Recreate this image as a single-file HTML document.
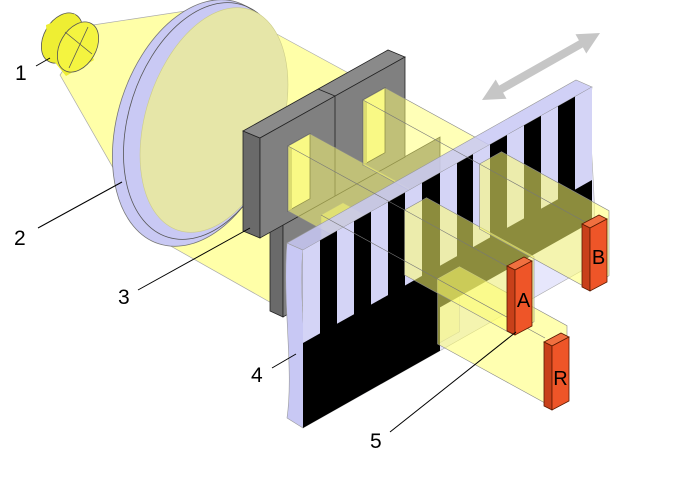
<!DOCTYPE html>
<html><head><meta charset="utf-8"><style>
html,body{margin:0;padding:0;background:#fff;}
svg{display:block;}
text{font-family:"Liberation Sans",sans-serif;fill:#000;}
</style></head><body>
<svg width="690" height="481" viewBox="0 0 690 481" xmlns="http://www.w3.org/2000/svg">
<!-- cone -->
<polygon points="93,25 205,8 140,215 60,75" fill="#ffffa8" stroke="#aaa" stroke-width="0.7"/>
<!-- collimated beam -->
<polygon points="262,26 365,82 275,305 160,240" fill="#ffffa8" stroke="#aaa" stroke-width="0.7"/>
<!-- lens -->
<ellipse cx="198" cy="123" rx="80" ry="127" transform="rotate(18 198 123)" fill="#c9c9f4" stroke="#777" stroke-width="0.8"/>
<ellipse cx="205" cy="121" rx="76" ry="122" transform="rotate(18 205 121)" fill="none" stroke="#555" stroke-width="0.8"/>
<ellipse cx="214" cy="120" rx="68" ry="116" transform="rotate(18 214 120)" fill="#e6e6a8" stroke="#cccc88" stroke-width="0.6"/>
<!-- source -->
<g stroke="#555" stroke-width="0.8">
<ellipse cx="62" cy="38" rx="18" ry="27" transform="rotate(30 62 38)" fill="#eeee33"/>
<polygon points="46,25 75,14 94,60 66,76 48,54" fill="#eeee33" stroke="none"/>
<ellipse cx="78" cy="47" rx="18" ry="27" transform="rotate(30 78 47)" fill="#f4f440"/>
<line x1="65" y1="32" x2="92" y2="54" />
<line x1="88" y1="27" x2="69" y2="68" />
</g>
<!-- lower frame block -->
<g stroke="#222" stroke-width="0.8">
<polygon points="270,219 283,225 283,317 270,311" fill="#6a6a6a"/>
<polygon points="283,225 440,137 440,229 283,317" fill="#808080"/>
<!-- upper frame -->
<polygon points="243,131 260,138 260,238 243,231" fill="#6a6a6a"/>
<polygon points="243,131 388,50 405,57 260,138" fill="#8a8a8a"/>
<polygon points="260,138 405,57 405,157 260,238" fill="#808080"/>
<line x1="335" y1="96" x2="335" y2="196"/>
<line x1="318" y1="89" x2="335" y2="96"/>
<!-- windows -->
<polygon points="288,146 310,133.7 310,198.7 288,211" fill="#f2f29a"/>
<polygon points="363,100 385,87.7 385,152.7 363,165" fill="#f2f29a"/>
</g>
<polygon points="288,146 292,148 292,209 288,211" fill="#b8b870"/>
<polygon points="363,100 367,102 367,163 363,165" fill="#b8b870"/>
<!-- beams behind plate -->
<g fill="#ffff70" fill-opacity="0.5" stroke="#888" stroke-width="0.6">
<polygon points="321,215 343,202.7 459.5,266.7 459.5,331.7 437.5,344 321,280"/>
<polygon points="288,146 310,133.7 426.5,197.7 426.5,262.7 404.5,275 288,211"/>
<polygon points="363,100 385,87.7 501.5,151.7 501.5,216.7 479.5,229 363,165"/>
</g>
<!-- plate -->
<path d="M287,243 L303,250 C298,300 310,360 303,428 L287,418 C294,370 282,300 287,243 Z" fill="#c8c8f4" stroke="#999" stroke-width="0.6"/>
<polygon points="287,243 576,80 592,87 303,250" fill="#c8c8f4" fill-opacity="0.85" stroke="#999" stroke-width="0.6"/>
<path d="M303,250 L592,87 C586,140 600,200 592,265 L303,428 C310,360 298,300 303,250 Z" fill="#d4d4fa" fill-opacity="0.55" stroke="#aaa" stroke-width="0.6"/>
<polygon points="303,250 592,87 592,221.7 440,307.4 440,350.7 303,428" fill="#000"/>
<g fill="#d4d4f6">
<polygon points="337,230.8 354,221.2 354,314.2 337,323.8"/>
<polygon points="371,211.6 388,202.1 388,295.1 371,304.6"/>
<polygon points="405,192.5 422,182.9 422,275.9 405,285.5"/>
<polygon points="440,172.7 457,163.1 457,256.1 440,265.7"/>
<polygon points="473,154.1 490,144.5 490,237.5 473,247.1"/>
<polygon points="507,134.9 524,125.4 524,218.4 507,227.9"/>
<polygon points="541,115.8 558,106.2 558,199.2 541,208.8"/>
<polygon points="575,96.6 592,87 592,180 575,189.6"/>
</g>
<polygon points="303,250 320,240.4 320,333.4 303,343" fill="#d4d4f6"/>
<!-- beams in front of plate -->
<g fill="#ffff70" fill-opacity="0.55" stroke="#888" stroke-width="0.6">
<polygon points="437.5,279 459.5,266.7 567,325.7 567,390.7 545,403 437.5,344"/>
<polygon points="404.5,210 426.5,197.7 534,256.7 534,321.7 512,334 404.5,275"/>
<polygon points="479.5,164 501.5,151.7 609,210.7 609,275.7 587,288 479.5,229"/>
</g>
<g stroke="#777" stroke-width="0.6">
<line x1="288" y1="146" x2="512" y2="269"/>
<line x1="363" y1="100" x2="587" y2="223"/>
<line x1="321" y1="215" x2="545" y2="338"/>
</g>
<!-- detectors -->
<g stroke="#5a1a00" stroke-width="0.8">
<polygon points="507,266 524,257 532,261 515,270" fill="#f07040"/>
<polygon points="507,266 515,270 515,335 507,331" fill="#c8401a"/>
<polygon points="515,270 532,261 532,326 515,335" fill="#ee5528"/>
<polygon points="582,224 599,215 607,219 590,228" fill="#f07040"/>
<polygon points="582,224 590,228 590,291 582,287" fill="#c8401a"/>
<polygon points="590,228 607,219 607,282 590,291" fill="#ee5528"/>
<polygon points="544,342 561,333 569,337 552,346" fill="#f07040"/>
<polygon points="544,342 552,346 552,410 544,406" fill="#c8401a"/>
<polygon points="552,346 569,337 569,401 552,410" fill="#ee5528"/>
</g>
<text x="523.5" y="307" font-size="20" text-anchor="middle">A</text>
<text x="598.5" y="264" font-size="20" text-anchor="middle">B</text>
<text x="560.5" y="385" font-size="20" text-anchor="middle">R</text>
<!-- arrow -->
<polygon points="482,100 506.5,98.7 503.1,92.6 582.9,47.4 586.3,53.5 600,33 575.5,34.3 578.9,40.4 499.1,85.6 495.7,79.5" fill="#c6c6c6"/>
<!-- labels -->
<g stroke="#000" stroke-width="1">
<line x1="36" y1="66" x2="50" y2="58"/>
<line x1="38" y1="228" x2="122" y2="182"/>
<line x1="138" y1="290" x2="250" y2="228"/>
<line x1="272" y1="368" x2="296" y2="354"/>
<line x1="390" y1="432" x2="516" y2="332"/>
</g>
<text x="15" y="80" font-size="21">1</text>
<text x="14" y="245" font-size="21">2</text>
<text x="118" y="304" font-size="21">3</text>
<text x="251" y="382" font-size="21">4</text>
<text x="370" y="448" font-size="21">5</text>
</svg>
</body></html>
